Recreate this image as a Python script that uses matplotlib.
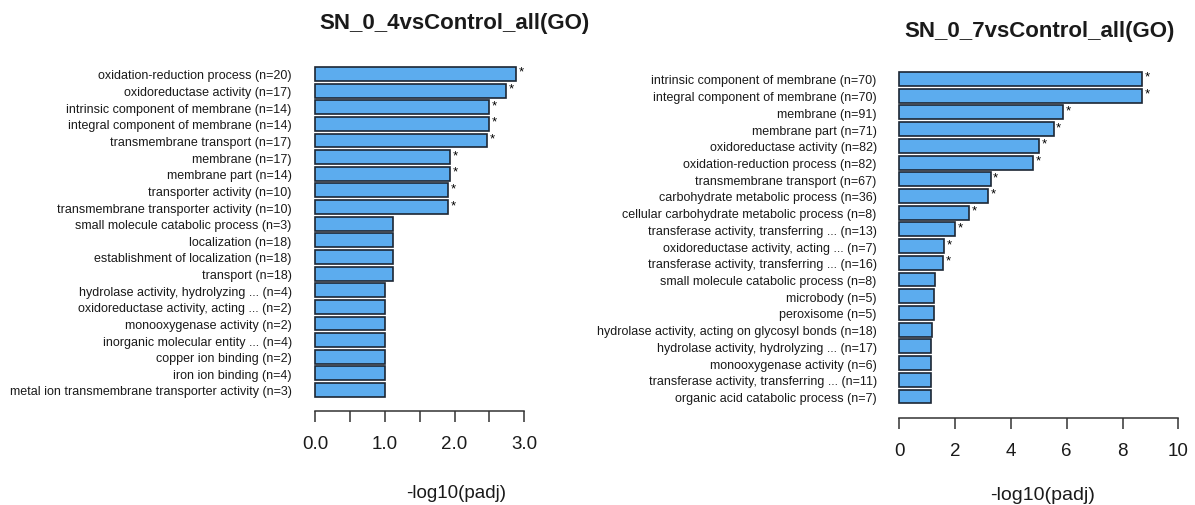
import matplotlib
matplotlib.use("Agg")
import matplotlib.pyplot as plt
from matplotlib.transforms import ScaledTranslation, blended_transform_factory

plt.rcParams["font.family"] = ["Liberation Sans", "DejaVu Sans"]

# ---- SN_0_4 vs Control ----
terms_04 = [
    "oxidation-reduction process", "oxidoreductase activity",
    "intrinsic component of membrane", "integral component of membrane",
    "transmembrane transport", "membrane", "membrane part",
    "transporter activity", "transmembrane transporter activity",
    "small molecule catabolic process", "localization",
    "establishment of localization", "transport",
    "hydrolase activity, hydrolyzing ...", "oxidoreductase activity, acting ...",
    "monooxygenase activity", "inorganic molecular entity ...",
    "copper ion binding", "iron ion binding",
    "metal ion transmembrane transporter activity",
]
counts_04 = [20, 17, 14, 14, 17, 17, 14, 10, 10, 3, 18, 18, 18, 4, 2, 2, 4, 2, 4, 3]
padj_04 = [2.88, 2.74, 2.50, 2.50, 2.47, 1.94, 1.94, 1.91, 1.91, 1.12,
           1.12, 1.12, 1.12, 1.00, 1.00, 1.00, 1.00, 1.00, 1.00, 1.00]
signif_04 = [True] * 9 + [False] * 11
ticks_04 = [0.0, 0.5, 1.0, 1.5, 2.0, 2.5, 3.0]
ticklabels_04 = ["0.0", "", "1.0", "", "2.0", "", "3.0"]

# ---- SN_0_7 vs Control ----
terms_07 = [
    "intrinsic component of membrane", "integral component of membrane",
    "membrane", "membrane part", "oxidoreductase activity",
    "oxidation-reduction process", "transmembrane transport",
    "carbohydrate metabolic process", "cellular carbohydrate metabolic process",
    "transferase activity, transferring ...", "oxidoreductase activity, acting ...",
    "transferase activity, transferring ...", "small molecule catabolic process",
    "microbody", "peroxisome", "hydrolase activity, acting on glycosyl bonds",
    "hydrolase activity, hydrolyzing ...", "monooxygenase activity",
    "transferase activity, transferring ...", "organic acid catabolic process",
]
counts_07 = [70, 70, 91, 71, 82, 82, 67, 36, 8, 13, 7, 16, 8, 5, 5, 18, 17, 6, 11, 7]
padj_07 = [8.70, 8.70, 5.88, 5.53, 5.00, 4.81, 3.27, 3.19, 2.51, 1.99,
           1.62, 1.56, 1.28, 1.26, 1.26, 1.18, 1.13, 1.13, 1.13, 1.13]
signif_07 = [True] * 12 + [False] * 8
ticks_07 = [0, 2, 4, 6, 8, 10]
ticklabels_07 = ["0", "2", "4", "6", "8", "10"]

W, H = 1195, 506
fig = plt.figure(figsize=(W / 100, H / 100), dpi=100)

BAR_FILL = "#5CACEE"
BAR_EDGE = "#1c2633"
TEXT = "#1a1a1a"
AXIS = "#333333"


def panel(title, terms, counts, values, signif, ticks, ticklabels, xmax,
          x0_px, xmax_px, axis_px, top_center_px, bottom_center_px,
          title_xy, ticklabel_y, xlabel_xy, label_gap_px, tick_fs, xlabel_fs):
    n = len(values)
    ypos = [0.7 + 1.2 * k for k in range(n)][::-1]      # first term on top
    ppu = (bottom_center_px - top_center_px) / (ypos[0] - ypos[-1])
    y_bot = ypos[-1] - (axis_px - bottom_center_px) / ppu
    top_px = top_center_px - 15
    y_top = ypos[0] + 15 / ppu

    ax = fig.add_axes([x0_px / W, 1 - axis_px / H,
                       (xmax_px - x0_px) / W, (axis_px - top_px) / H])
    ax.set_xlim(0, xmax)
    ax.set_ylim(y_bot, y_top)
    ax.barh(ypos, values, height=1.0, color=BAR_FILL, edgecolor=BAR_EDGE,
            linewidth=1.2, clip_on=False)

    star_shift = ScaledTranslation(2.5 / 100, 0, fig.dpi_scale_trans)
    for v, y, s in zip(values, ypos, signif):
        if s:
            ax.text(v, y + 0.15, "*", transform=ax.transData + star_shift,
                    ha="left", va="center", fontsize=9.5, color="black")

    labels = [f"{t} (n={c})" for t, c in zip(terms, counts)]
    ax.set_yticks(ypos)
    ax.set_yticklabels(labels, fontsize=9, color=TEXT)
    ax.tick_params(axis="y", length=0, pad=label_gap_px * 0.72)

    for side in ("top", "right", "left"):
        ax.spines[side].set_visible(False)
    ax.spines["bottom"].set_bounds(ticks[0], ticks[-1])
    ax.spines["bottom"].set_color(AXIS)
    ax.spines["bottom"].set_linewidth(1.1)
    ax.set_xticks(ticks)
    ax.set_xticklabels([])
    ax.tick_params(axis="x", direction="out", length=7.8, width=1.1,
                   color=AXIS)

    tr = blended_transform_factory(ax.transData, fig.transFigure)
    for t, lab in zip(ticks, ticklabels):
        if lab:
            ax.text(t, 1 - ticklabel_y / H, lab, transform=tr, ha="center",
                    va="center", fontsize=tick_fs, color=TEXT)

    fig.text(xlabel_xy[0] / W, 1 - xlabel_xy[1] / H, "-log10(padj)",
             ha="center", va="center", fontsize=xlabel_fs, color=TEXT)
    fig.text(title_xy[0] / W, 1 - title_xy[1] / H, title, ha="center",
             va="center", fontsize=16, fontweight="bold", color=TEXT)
    return ax


panel("SN_0_4vsControl_all(GO)", terms_04, counts_04, padj_04, signif_04,
      ticks_04, ticklabels_04, 3.0,
      x0_px=315, xmax_px=524.3, axis_px=411.7,
      top_center_px=75, bottom_center_px=391,
      title_xy=(454, 23), ticklabel_y=445, xlabel_xy=(456, 494),
      label_gap_px=23.3, tick_fs=13.5, xlabel_fs=13.5)

panel("SN_0_7vsControl_all(GO)", terms_07, counts_07, padj_07, signif_07,
      ticks_07, ticklabels_07, 10.0,
      x0_px=899.3, xmax_px=1178.3, axis_px=419.3,
      top_center_px=80, bottom_center_px=397.5,
      title_xy=(1040, 31), ticklabel_y=452, xlabel_xy=(1043, 496),
      label_gap_px=22.6, tick_fs=13.5, xlabel_fs=14)

fig.savefig("out.png", dpi=100, facecolor="white")
